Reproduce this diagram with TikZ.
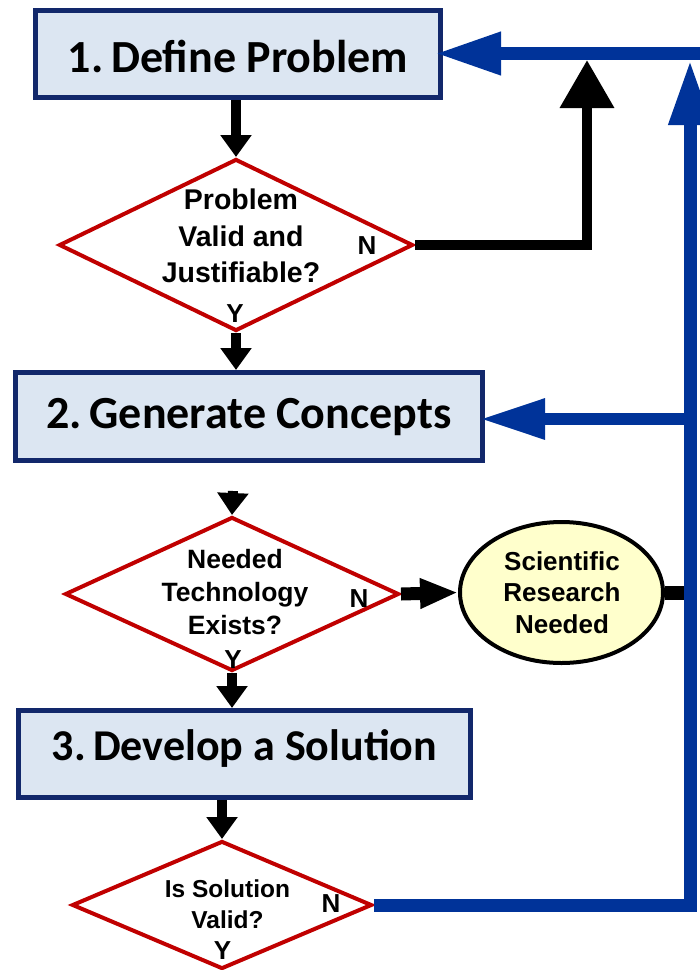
\documentclass[tikz,border=0pt]{standalone}
\usepackage{fontspec}
\setmainfont{Carlito}
\newfontfamily\headfont{Liberation Sans}
\usetikzlibrary{shapes.geometric,arrows.meta}
\definecolor{boxfill}{HTML}{DCE6F2}
\definecolor{boxline}{HTML}{12286B}
\definecolor{loopblue}{HTML}{003399}
\definecolor{decred}{HTML}{C00000}
\definecolor{notefill}{HTML}{FFFFCC}

\begin{document}
\begin{tikzpicture}[x=1pt,y=-1pt,
  stepbox/.style={draw=boxline, fill=boxfill, line width=5pt, inner sep=0pt,
    font=\bfseries\fontsize{46}{54}\selectfont},
  decision/.style={diamond, draw=decred, line width=4pt, inner sep=0pt},
  qtext/.style={align=center, inner sep=0pt},
  yn/.style={font=\headfont\bfseries\fontsize{26}{26}\selectfont,
    text height=18.6pt, text depth=0pt, inner sep=0pt},
  flow/.style={line width=10pt, -{Triangle[length=22pt,width=30pt]}},
  loopline/.style={draw=loopblue, line width=13pt, line join=miter},
]
\useasboundingbox (0,0) rectangle (700,970);

% process steps (text height/depth set the vertical place of the caption)
\node[stepbox, minimum width=405pt, minimum height=87pt, text height=36.6pt, text depth=0pt]
  (b1) at (238,54) {1.\,Define Problem};
\node[stepbox, minimum width=467pt, minimum height=88pt, text height=29.6pt, text depth=5pt]
  (b2) at (249,416.5) {2.\,Generate Concepts};
\node[stepbox, minimum width=452pt, minimum height=87pt, text height=28.3pt, text depth=16pt,
  font=\bfseries\fontsize{44}{52}\selectfont]
  (b3) at (244.5,754) {3.\,Develop a Solution};

% decisions
\node[decision, minimum width=354pt, minimum height=172pt] (d1) at (236,245) {};
\node[qtext, font=\headfont\bfseries\fontsize{28.5}{36.5}\selectfont] (d1t) at (241,236) {Problem\\Valid and\\Justifiable?};
\node[yn] (d1n) at (367,245) {N};
\node[yn] (d1y) at (235,313) {Y};

\node[decision, minimum width=334pt, minimum height=154pt] (d2) at (232,594) {};
\node[qtext, font=\headfont\bfseries\fontsize{26.5}{33}\selectfont] (d2t) at (235,592) {Needed\\Technology\\Exists?};
\node[yn] (d2n) at (359,598) {N};
\node[yn] (d2y) at (233,659) {Y};

\node[decision, minimum width=300pt, minimum height=128pt] (d3) at (222,905) {};
\node[qtext, font=\headfont\bfseries\fontsize{24.5}{31}\selectfont] (d3t) at (227.5,904) {Is Solution\\Valid?};
\node[yn] (d3n) at (331,903) {N};
\node[yn] (d3y) at (222.5,950) {Y};

% research branch
\node[ellipse, draw=black, line width=4pt, fill=notefill, minimum width=203pt,
  minimum height=141pt, inner sep=0pt] (sr) at (561.5,592.5) {};
\node[qtext, font=\headfont\bfseries\fontsize{26}{31.5}\selectfont] (srt) at (562,592.5) {Scientific\\Research\\Needed};

% junction points of the feedback lines
\coordinate (riser) at (690,60);
\coordinate (edge) at (700,53.5);
\coordinate (j2) at (690,419);
\coordinate (bk) at (587,60);
\coordinate (h2) at (233,491);

% main flow
\draw[flow] (d1.north |- b1.south) -- (d1.north);
\draw[flow] (d1.south) -- (d1.south |- b2.north);
\draw[flow] (h2) -- (d2.north);
\draw[flow] (d2.south) -- (d2.south |- b3.north);
\draw[flow] (d3.north |- b3.south) -- (d3.north);
\draw[line width=13pt, -{Triangle[length=38pt,width=28pt]}] (d2.east) -- (sr.west);

% "no" branches
\draw[line width=10pt, line join=miter, -{Triangle[length=48pt,width=52pt]}] (d1.east) -| (bk);
\draw[line width=14pt] (sr.east) -- (sr.east -| riser);
\draw[loopline, -{Triangle[length=65pt,width=40pt]}] (d3.east) -| (riser);
\draw[loopline, shorten >=-8pt, -{Triangle[length=66pt,width=40pt]}] (edge) -- (edge -| b1.east);
\draw[loopline, line width=12pt, shorten >=-5pt, -{Triangle[length=65pt,width=38pt]}] (j2) -- (j2 -| b2.east);
\end{tikzpicture}
\end{document}
